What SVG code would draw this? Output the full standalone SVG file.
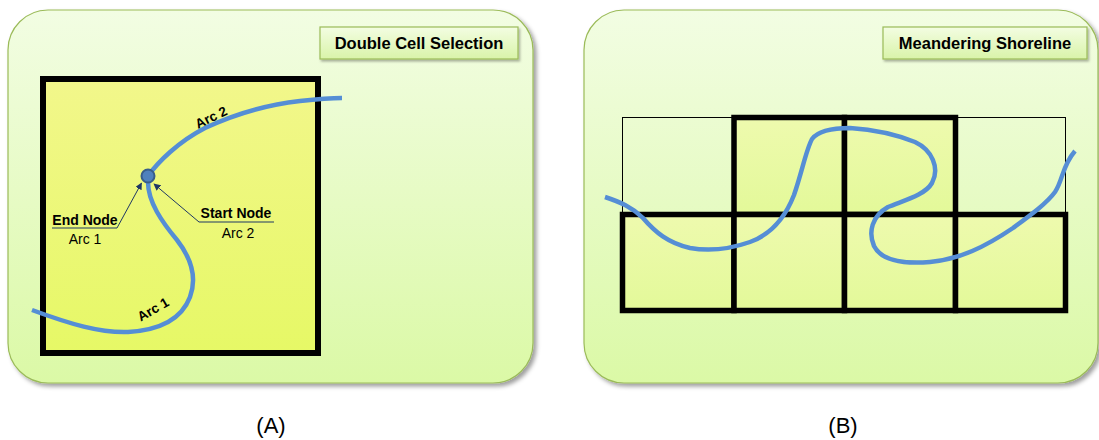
<svg xmlns="http://www.w3.org/2000/svg" width="1099" height="440" viewBox="0 0 1099 440">
  <defs>
    <linearGradient id="panelGrad" x1="0" y1="0" x2="0" y2="1">
      <stop offset="0" stop-color="#f2fde3"/>
      <stop offset="1" stop-color="#dbf9a6"/>
    </linearGradient>
    <linearGradient id="titleGrad" x1="0" y1="0" x2="0" y2="1">
      <stop offset="0" stop-color="#f3fde2"/>
      <stop offset="1" stop-color="#d9f4a9"/>
    </linearGradient>
    <linearGradient id="squareGrad" x1="0" y1="0" x2="0" y2="1">
      <stop offset="0" stop-color="#f2f78b"/>
      <stop offset="1" stop-color="#e6f866"/>
    </linearGradient>
    <linearGradient id="cellGrad" x1="0" y1="0" x2="0" y2="1">
      <stop offset="0" stop-color="#eefaae"/>
      <stop offset="1" stop-color="#e3f999"/>
    </linearGradient>
    <filter id="shadow" x="-10%" y="-10%" width="120%" height="120%">
      <feDropShadow dx="3" dy="3" stdDeviation="2.2" flood-color="#000" flood-opacity="0.38"/>
    </filter>
    <filter id="shadowSmall" x="-10%" y="-20%" width="120%" height="150%">
      <feDropShadow dx="1.5" dy="2" stdDeviation="1.2" flood-color="#000" flood-opacity="0.3"/>
    </filter>
    <marker id="arrow" viewBox="0 0 10 10" refX="9" refY="5" markerWidth="7" markerHeight="7" markerUnits="userSpaceOnUse" orient="auto">
      <path d="M0,0 L10,5 L0,10 z" fill="#1f3864"/>
    </marker>
  </defs>
  <style>
    .panel { fill: url(#panelGrad); stroke: #9bbb59; stroke-width: 1.2; filter: url(#shadow); }
    .title { fill: url(#titleGrad); stroke: #9bbb59; stroke-width: 1.2; filter: url(#shadowSmall); }
    .titleText { font-family: "Liberation Sans", Arial, sans-serif; font-weight: bold; font-size: 16.5px; fill: #000; text-anchor: middle; }
    .thick { stroke: #000; stroke-width: 5.5; fill: url(#cellGrad); }
    .thin { stroke: #000; stroke-width: 1; fill: none; }
    .shore { fill: none; stroke: #558ed5; stroke-width: 4.5; stroke-linecap: butt; stroke-linejoin: round; }
    .leader { fill: none; stroke: #1f3864; stroke-width: 1; }
    .lblBold { font-family: "Liberation Sans", Arial, sans-serif; font-weight: bold; font-size: 13.5px; fill: #000; text-anchor: middle; }
    .lbl { font-family: "Liberation Sans", Arial, sans-serif; font-size: 14px; fill: #000; text-anchor: middle; }
    .caption { font-family: "Liberation Sans", Arial, sans-serif; font-size: 22px; fill: #000; text-anchor: middle; }
  </style>

  <!-- Panel A -->
  <g id="panelA">
    <rect class="panel" x="8" y="10" width="525" height="373" rx="40" ry="40"/>
  </g>
  <g id="titleA">
    <rect class="title" x="320" y="27" width="198" height="32"/>
    <text class="titleText" x="419" y="49">Double Cell Selection</text>
  </g>
  <g id="cellA">
    <rect x="43" y="79" width="275" height="274" fill="url(#squareGrad)" stroke="#000" stroke-width="6"/>
  </g>

  <!-- Panel B -->
  <g id="panelB">
    <rect class="panel" x="584" y="10" width="514" height="373" rx="40" ry="40"/>
  </g>
  <g id="titleB">
    <rect class="title" x="883" y="27" width="204" height="32"/>
    <text class="titleText" x="985" y="49">Meandering Shoreline</text>
  </g>
  <g id="gridB">
    <rect id="cellB1" class="thin" x="622.5" y="117.5" width="111.5" height="97"/>
    <rect id="cellB4" class="thin" x="955.5" y="117.5" width="110" height="97"/>
    <rect id="cellB2" class="thick" x="734" y="117.5" width="110.5" height="97"/>
    <rect id="cellB3" class="thick" x="844.5" y="117.5" width="111" height="97"/>
    <rect id="cellB5" class="thick" x="622.5" y="214.5" width="111.5" height="96"/>
    <rect id="cellB6" class="thick" x="734" y="214.5" width="110.5" height="96"/>
    <rect id="cellB7" class="thick" x="844.5" y="214.5" width="111" height="96"/>
    <rect id="cellB8" class="thick" x="955.5" y="214.5" width="110" height="96"/>
  </g>

  <!-- Connectors -->
  <g id="connectors">
    <path id="arc2" class="shore" d="M148,176 C158,162 178,142 205,128 C235,114 265,105 300,101 C318,99 330,98 342,98"/>
    <path id="arc1" class="shore" d="M148,182 C148,202 162,222 177,240 C191,258 197,278 190,297 C182,318 162,330 128,332 C100,333 70,324 32,310"/>
    <path id="shoreline" class="shore" d="M605,197 C620,202 632,207 643,218 C655,232 668,243 690,248 C712,252 730,249 750,242 C772,234 785,218 794,195 C802,172 806,150 812,139 C818,131 830,128 850,128 C880,130 900,136 915,142 C932,150 940,168 932,183 C925,195 905,200 888,207 C872,216 868,232 874,246 C882,262 905,264 930,262 C960,259 985,247 1013,228 C1032,214 1047,203 1055,192 C1063,180 1062,166 1075,151"/>
    <polyline class="leader" points="52,228 117,228 141.5,183" marker-end="url(#arrow)"/>
    <polyline class="leader" points="274,222 199,222 154,184" marker-end="url(#arrow)"/>
  </g>

  <g id="nodeA">
    <circle cx="148" cy="176" r="6.5" fill="#4f81bd" stroke="#385d8a" stroke-width="2"/>
  </g>

  <!-- Labels -->
  <g id="labelsA">
    <text class="lblBold" x="0" y="5" transform="translate(211,117) rotate(-26)">Arc 2</text>
    <text class="lblBold" x="0" y="5" transform="translate(153,309) rotate(-30)">Arc 1</text>
    <text class="lblBold" x="85" y="225" style="font-size:14px">End Node</text>
    <text class="lbl" x="85" y="244">Arc 1</text>
    <text class="lblBold" x="236" y="218" style="font-size:14px">Start Node</text>
    <text class="lbl" x="238" y="238">Arc 2</text>
  </g>

  <g id="captions">
    <text class="caption" x="271" y="433">(A)</text>
    <text class="caption" x="843" y="433">(B)</text>
  </g>
</svg>
